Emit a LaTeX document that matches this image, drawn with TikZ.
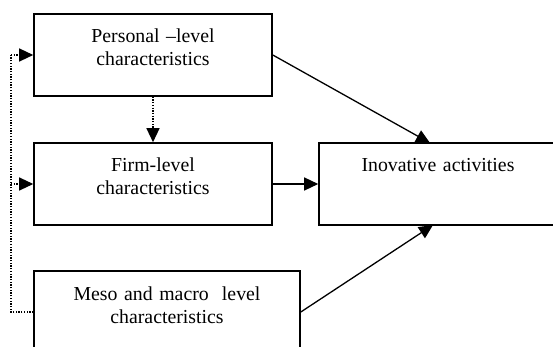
\documentclass[tikz,border=0pt]{standalone}
\usepackage{fontspec}
\setmainfont{Liberation Serif}
\usetikzlibrary{arrows.meta}
\begin{document}
\begin{tikzpicture}[x=1pt,y=-1pt,
  boxnode/.style={draw, line width=1.6pt, inner xsep=4pt, inner ysep=14pt,
    text height=15pt, text depth=39pt, align=center,
    font=\fontsize{19.8}{23}\selectfont},
  conn/.style={line width=1.3pt, -{Triangle[length=14pt,width=13pt]}},
  dotline/.style={line width=1.3pt, dash pattern=on 1.3pt off 1.4pt},
  dotarrow/.style={dotline, -{Triangle[length=14pt,width=13pt]}}]
\clip (0,0) rectangle (553,347);
\node[boxnode, text width=230pt] (p) at (153,55) {Personal –level\\characteristics};
\node[boxnode, text width=230pt] (f) at (153,184) {Firm-level\\characteristics};
\node[boxnode, text width=258pt] (m) at (167,312) {Meso and macro~ level\\characteristics};
\node[boxnode, text width=230pt] (i) at (438,184) {Inovative activities\\\mbox{}};
\coordinate (c1) at (11,312);
\coordinate (c2) at (11,55);
\coordinate (c3) at (11,184);
\coordinate (ip) at (430,143);
\coordinate (im) at (433,225);
\draw[conn] (p.east) -- (ip);
\draw[conn] (f.east) -- (i.west);
\draw[conn] (m.east) -- (im);
\draw[dotarrow] (p.south) -- (f.north);
\draw[dotline] (m.west) -- (c1) -- (c2);
\draw[dotarrow] (c2) -- (p.west);
\draw[dotarrow] (c3) -- (f.west);
\end{tikzpicture}
\end{document}
